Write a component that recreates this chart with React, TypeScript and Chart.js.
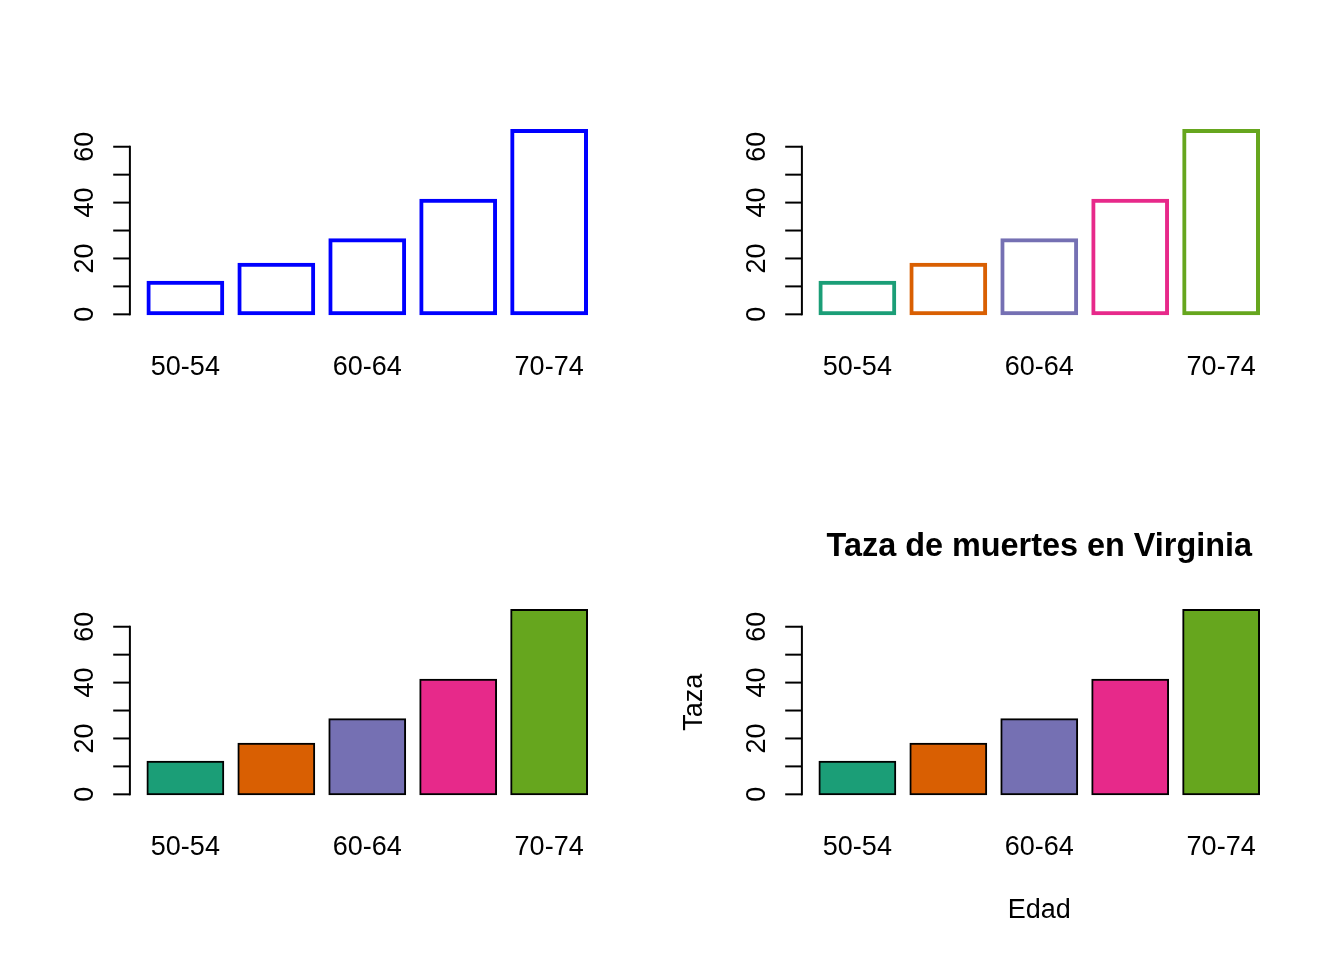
import React, { useEffect, useRef } from "react";
import { Chart, registerables } from "chart.js";

Chart.register(...registerables);

const categories = ["50-54", "55-59", "60-64", "65-69", "70-74"];
const ruralMale = [11.7, 18.1, 26.9, 41.0, 66.0];
const shownLabels = ["50-54", "60-64", "70-74"];
const yTicks = [0, 10, 20, 30, 40, 50, 60];
const yTickLabels = [0, 20, 40, 60];
const dark2 = ["#1B9E77", "#D95F02", "#7570B3", "#E7298A", "#66A61E"];

const titleText = "Taza de muertes en Virginia";
const xTitle = "Edad";
const yTitle = "Taza";

const FONT = '"Liberation Sans", Arial, sans-serif';
const FS = 27;

type PanelSpec = {
  left: number;
  top: number;
  fill: string[] | string;
  border: string[] | string;
  annotate: boolean;
};

const panels: PanelSpec[] = [
  { left: 0, top: 0, fill: "rgba(0,0,0,0)", border: "#0000FF", annotate: false },
  { left: 672, top: 0, fill: "rgba(0,0,0,0)", border: dark2, annotate: false },
  { left: 0, top: 480, fill: dark2, border: "#000000", annotate: false },
  { left: 672, top: 480, fill: dark2, border: "#000000", annotate: true },
];

function makeAxisPlugin(annotate: boolean) {
  return {
    id: "rAxis",
    afterDraw(chart: any) {
      const ctx = chart.ctx as CanvasRenderingContext2D;
      const area = chart.chartArea;
      const xs = chart.scales.x;
      const ys = chart.scales.y;
      const ppu = area.width / 6;
      const axisX = area.left - 0.132 * ppu;
      ctx.save();
      ctx.strokeStyle = "#000";
      ctx.lineWidth = 2;
      ctx.lineCap = "butt";
      ctx.beginPath();
      ctx.moveTo(axisX, ys.getPixelForValue(yTicks[0]) + 1);
      ctx.lineTo(axisX, ys.getPixelForValue(yTicks[yTicks.length - 1]) - 1);
      ctx.stroke();
      for (const t of yTicks) {
        const py = ys.getPixelForValue(t);
        ctx.beginPath();
        ctx.moveTo(axisX, py);
        ctx.lineTo(axisX - 16.7, py);
        ctx.stroke();
      }
      ctx.fillStyle = "#000";
      ctx.font = `${FS}px ${FONT}`;
      for (const t of yTickLabels) {
        const py = ys.getPixelForValue(t);
        ctx.save();
        ctx.translate(axisX - 36.7, py);
        ctx.rotate(-Math.PI / 2);
        ctx.textAlign = "center";
        ctx.textBaseline = "alphabetic";
        ctx.fillText(String(t), 0, 0);
        ctx.restore();
      }
      ctx.textAlign = "center";
      ctx.textBaseline = "alphabetic";
      categories.forEach((c, i) => {
        if (shownLabels.includes(c)) {
          ctx.fillText(c, xs.getPixelForValue(i), area.bottom + 53.5);
        }
      });
      if (annotate) {
        const plotLeft = axisX;
        const plotRight = area.right + 0.132 * ppu;
        const cx = (plotLeft + plotRight) / 2;
        ctx.font = `bold ${FS * 1.2}px ${FONT}`;
        ctx.fillText(titleText, cx, 75.5);
        ctx.font = `${FS}px ${FONT}`;
        ctx.fillText(xTitle, cx, 437.5);
        ctx.save();
        ctx.translate(29.7, (area.top + area.bottom) / 2);
        ctx.rotate(-Math.PI / 2);
        ctx.textAlign = "center";
        ctx.fillText(yTitle, 0, 0);
        ctx.restore();
      }
      ctx.restore();
    },
  };
}

function Panel({ spec }: { spec: PanelSpec }) {
  const ref = useRef<HTMLCanvasElement | null>(null);
  useEffect(() => {
    if (!ref.current) return;
    const chart = new Chart(ref.current, {
      type: "bar",
      data: {
        labels: categories,
        datasets: [
          {
            data: ruralMale,
            backgroundColor: spec.fill as any,
            borderColor: spec.border as any,
            borderWidth: 2,
            borderSkipped: false,
            inflateAmount: 1,
            barPercentage: 1 / 1.2,
            categoryPercentage: 1,
          },
        ],
      },
      options: {
        responsive: false,
        animation: false,
        devicePixelRatio: 1,
        layout: { padding: { left: 139.9, right: 77.4, top: 122.6, bottom: 158.3 } },
        plugins: { legend: { display: false }, tooltip: { enabled: false }, title: { display: false } },
        scales: {
          x: { type: "category", display: false },
          y: { type: "linear", display: false, min: -2.64, max: 68.64 },
        },
      },
      plugins: [makeAxisPlugin(spec.annotate)],
    });
    return () => chart.destroy();
  }, [spec]);
  return (
    <canvas
      ref={ref}
      width={672}
      height={480}
      style={{ position: "absolute", left: spec.left, top: spec.top, width: 672, height: 480 }}
    />
  );
}

export default function App() {
  return (
    <div style={{ position: "absolute", left: 0, top: 0, width: 1344, height: 960, background: "#fff" }}>
      {panels.map((p, i) => (
        <Panel key={i} spec={p} />
      ))}
    </div>
  );
}
